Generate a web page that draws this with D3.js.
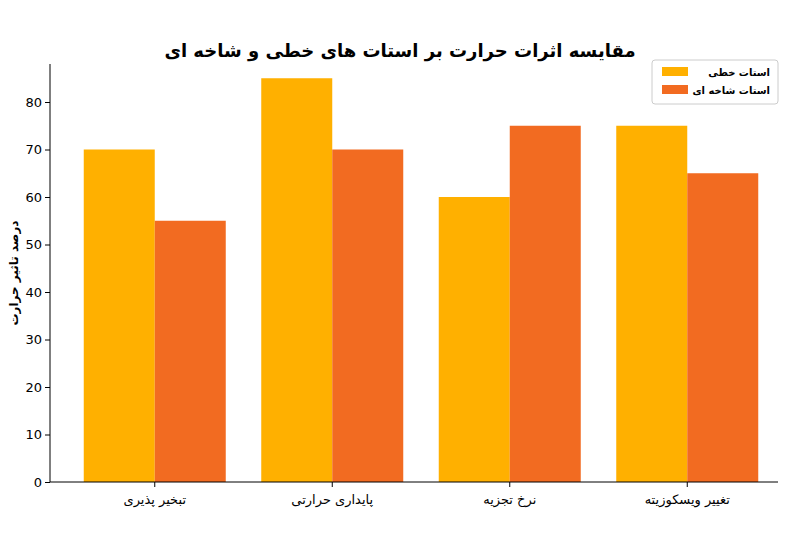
<!DOCTYPE html>
<html><head><meta charset="utf-8">
<script src="https://cdn.jsdelivr.net/npm/d3@7"></script>
<style>body{margin:0;background:#fff}text{font-family:"DejaVu Sans",sans-serif}</style>
</head><body><svg id="c" width="800" height="546"></svg>
<script>
const categories=["تبخیر پذیری","پایداری حرارتی","نرخ تجزیه","تغییر ویسکوزیته"];
const linear=[70,85,60,75];
const branched=[55,70,75,65];
const seriesNames=["استات خطی","استات شاخه ای"];
const yTicks=[0,10,20,30,40,50,60,70,80];
const colors=["#FFB000","#F26B21"];
const svg=d3.select("#c");
const x=d3.scaleBand().domain(categories).range([66,776]).paddingInner(0.2).paddingOuter(0.1);
const y=d3.scaleLinear().domain([0,88]).range([482,64]);
const xs=d3.scaleBand().domain([0,1]).range([0,x.bandwidth()]);
[linear,branched].forEach((vals,s)=>{
  svg.append("g").selectAll("rect").data(vals).join("rect")
   .attr("x",(d,i)=>x(categories[i])+xs(s)).attr("width",xs.bandwidth())
   .attr("y",d=>y(d)).attr("height",d=>y(0)-y(d)).attr("fill",colors[s]);
});
const ya=svg.append("g").attr("transform","translate(50,0)").call(d3.axisLeft(y).tickValues(yTicks).tickSize(5));
ya.select(".domain").attr("d","M0,482V64");
ya.selectAll("text").attr("font-size",13).attr("fill","#000");
const xa=svg.append("g").attr("transform","translate(0,482)").call(d3.axisBottom(x).tickSize(5));
xa.select(".domain").attr("d","M50,0H778");
xa.selectAll("text").attr("font-size",13).attr("fill","#000").attr("dy","1.1em");
svg.append("text").attr("x",400).attr("y",57).attr("text-anchor","middle").attr("font-size",18).attr("font-weight","bold").text("مقایسه اثرات حرارت بر استات های خطی و شاخه ای");
svg.append("text").attr("transform","translate(18,273) rotate(-90)").attr("text-anchor","middle").attr("font-size",12).attr("font-weight","bold").text("درصد تاثیر حرارت");
const lg=svg.append("g");
lg.append("rect").attr("x",652).attr("y",60).attr("width",126).attr("height",44).attr("fill","#fff").attr("stroke","#ccc").attr("rx",3);
seriesNames.forEach((n,i)=>{
  lg.append("rect").attr("x",662).attr("y",67+i*18).attr("width",26).attr("height",9).attr("fill",colors[i]);
  lg.append("text").attr("x",770).attr("y",76+i*18).attr("text-anchor","end").attr("font-size",10).attr("font-weight","bold").text(n);
});
</script></body></html>
